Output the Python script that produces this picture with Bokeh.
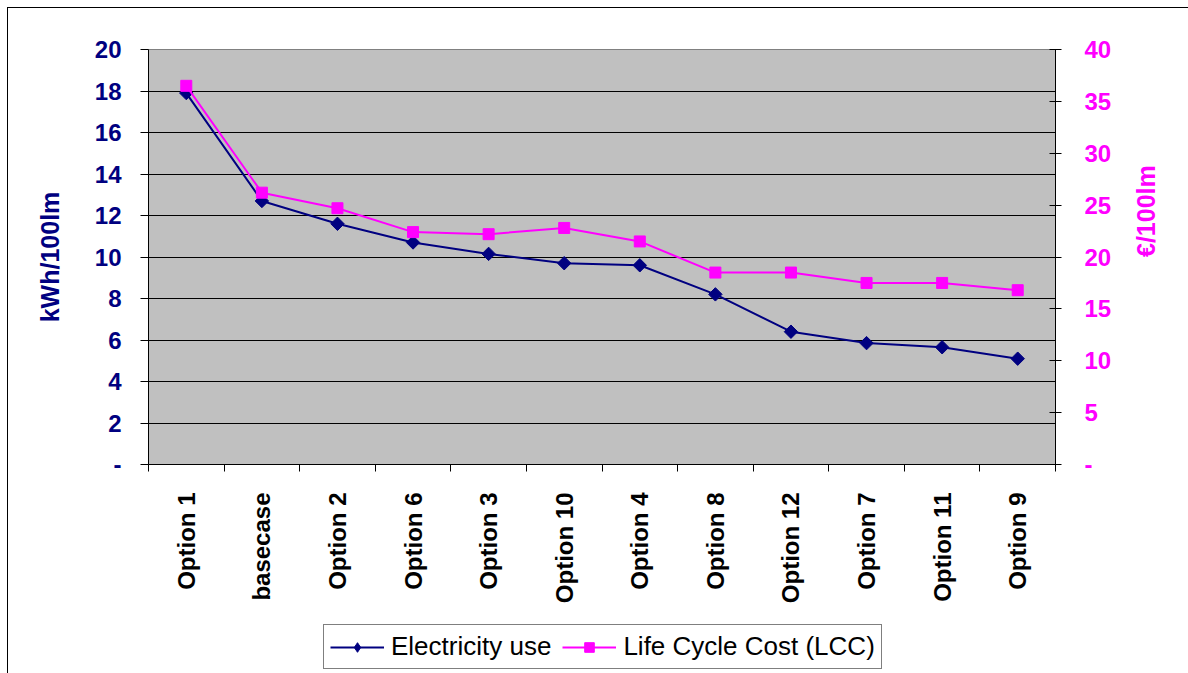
import math
from bokeh.plotting import figure
from bokeh.layouts import column
from bokeh.models import (Range1d, LinearAxis, FixedTicker, Legend, LegendItem, Grid)
from bokeh.embed import file_html
from bokeh.resources import INLINE

categories = ["Option 1", "basecase", "Option 2", "Option 6", "Option 3", "Option 10",
              "Option 4", "Option 8", "Option 12", "Option 7", "Option 11", "Option 9"]
electricity_use = [17.9, 12.7, 11.6, 10.7, 10.15, 9.7, 9.6, 8.2, 6.4, 5.85, 5.65, 5.1]
lcc = [36.5, 26.2, 24.7, 22.4, 22.2, 22.8, 21.5, 18.5, 18.5, 17.5, 17.5, 16.8]
left_ticks = [0, 2, 4, 6, 8, 10, 12, 14, 16, 18, 20]
right_ticks = [0, 5, 10, 15, 20, 25, 30, 35, 40]
series_names = ["Electricity use", "Life Cycle Cost (LCC)"]

NAVY = "#000080"
MAGENTA = "#FF00FF"
FONT = "Liberation Sans"

n = len(categories)
xpos = [i + 0.5 for i in range(n)]

p = figure(width=1188, height=610, x_range=Range1d(0, n), y_range=Range1d(0, 20),
           x_axis_type=None, y_axis_type=None,
           output_backend="svg", toolbar_location=None,
           min_border_left=148, min_border_right=133, min_border_top=49, min_border_bottom=146)
p.extra_y_ranges = {"lcc": Range1d(0, 40)}
p.background_fill_color = "#C0C0C0"
p.border_fill_alpha = 0
p.outline_line_color = "#808080"
p.outline_line_width = 1

# bottom axis
xaxis = LinearAxis(ticker=FixedTicker(ticks=xpos, minor_ticks=list(range(n + 1))))
xaxis.major_label_overrides = {x: c for x, c in zip(xpos, categories)}
xaxis.major_label_orientation = math.pi / 2
xaxis.major_tick_out = 0
xaxis.major_tick_in = 0
xaxis.minor_tick_out = 7
xaxis.minor_tick_in = 0
xaxis.minor_tick_line_color = "black"
xaxis.axis_line_color = "black"
xaxis.major_label_standoff = 21
xaxis.major_label_text_font = FONT
xaxis.major_label_text_font_style = "bold"
xaxis.major_label_text_font_size = "24px"
xaxis.major_label_text_color = "black"
p.add_layout(xaxis, "below")

# left axis
yaxis = LinearAxis(ticker=FixedTicker(ticks=left_ticks, minor_ticks=[]))
yaxis.major_label_overrides = {0: "-"}
yaxis.axis_label = "kWh/100lm"
yaxis.axis_label_text_color = NAVY
yaxis.axis_label_text_font = FONT
yaxis.axis_label_text_font_style = "bold"
yaxis.axis_label_text_font_size = "25px"
yaxis.axis_label_standoff = 28
yaxis.major_label_text_color = NAVY
yaxis.major_label_text_font = FONT
yaxis.major_label_text_font_style = "bold"
yaxis.major_label_text_font_size = "24px"
yaxis.major_label_standoff = 19
yaxis.major_tick_out = 8
yaxis.major_tick_in = 0
yaxis.minor_tick_out = 0
yaxis.axis_line_color = "black"
yaxis.major_tick_line_color = "black"
p.add_layout(yaxis, "left")

# right axis
raxis = LinearAxis(y_range_name="lcc", ticker=FixedTicker(ticks=right_ticks, minor_ticks=[]))
raxis.major_label_overrides = {0: "-"}
raxis.axis_label = "€/100lm"
raxis.axis_label_text_color = MAGENTA
raxis.axis_label_text_font = FONT
raxis.axis_label_text_font_style = "bold"
raxis.axis_label_text_font_size = "25px"
raxis.axis_label_standoff = 32
try:
    raxis.axis_label_orientation = math.pi / 2
except Exception:
    pass
raxis.major_label_text_color = MAGENTA
raxis.major_label_text_font = FONT
raxis.major_label_text_font_style = "bold"
raxis.major_label_text_font_size = "24px"
raxis.major_label_standoff = 23
raxis.major_tick_out = 6
raxis.major_tick_in = 6
raxis.minor_tick_out = 0
raxis.axis_line_color = "black"
raxis.major_tick_line_color = "black"
p.add_layout(raxis, "right")

# grid
grid = Grid(dimension=1, ticker=FixedTicker(ticks=left_ticks[1:-1]))
grid.grid_line_color = "black"
grid.grid_line_width = 1
p.add_layout(grid)


def draw_series(fig, diamond_kw, **kw):
    r1 = fig.line(xpos, electricity_use, line_color=NAVY, line_width=2)
    r2 = fig.scatter(xpos, electricity_use, fill_color=NAVY, line_color=NAVY, **diamond_kw)
    r3 = fig.line(xpos, lcc, line_color=MAGENTA, line_width=2, **kw)
    r4 = fig.scatter(xpos, lcc, marker="square", size=11, fill_color=MAGENTA,
                     line_color=MAGENTA, **kw)
    return r1, r2, r3, r4


draw_series(p, dict(marker="square", angle=math.pi / 4, size=9.5), y_range_name="lcc")

# legend strip below the chart (its own renderers lie outside its view)
lg = figure(width=1188, height=63, x_range=Range1d(-2, -1), y_range=Range1d(-2, -1),
            x_axis_type=None, y_axis_type=None, output_backend="svg", toolbar_location=None,
            min_border_left=0, min_border_right=0, min_border_top=0, min_border_bottom=0)
lg.outline_line_color = None
lg.background_fill_alpha = 0
lg.border_fill_alpha = 0
el1, es1, el2, es2 = draw_series(lg, dict(marker="diamond", size=15))

legend = Legend(items=[LegendItem(label=series_names[0], renderers=[el1, es1]),
                       LegendItem(label=series_names[1], renderers=[el2, es2])],
                orientation="horizontal", location=(175, 4))
legend.border_line_color = "black"
legend.border_line_width = 1
legend.background_fill_color = "white"
legend.background_fill_alpha = 1
legend.label_text_font = FONT
legend.label_text_font_size = "26px"
legend.label_text_color = "black"
legend.glyph_width = 54
legend.glyph_height = 24
legend.label_standoff = 7
legend.spacing = 11
legend.padding = 6
legend.margin = 0
lg.add_layout(legend, "center")

page = column(p, lg, spacing=0, styles={
    "background": "linear-gradient(#000, #000) 7px 7px / 1px 100% no-repeat, "
                  "linear-gradient(#000, #000) 7px 7px / 100% 1px no-repeat, #ffffff"})

open("out.html", "w").write(file_html(page, INLINE))
